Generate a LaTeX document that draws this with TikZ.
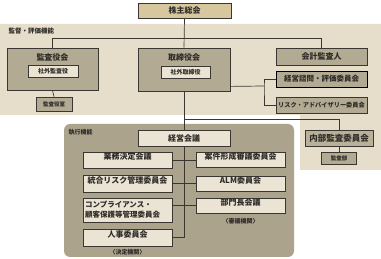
\documentclass[tikz,border=0pt]{standalone}
\usepackage{fontspec}
\setmainfont{Noto Sans CJK JP}
\usepackage{xcolor}
\definecolor{band}{HTML}{E6DECA}
\definecolor{execgray}{HTML}{ACA38D}
\definecolor{boxgray}{HTML}{B3AA93}
\definecolor{paper}{HTML}{EBE4D4}
\definecolor{gold}{HTML}{D7C79F}
\definecolor{ink}{HTML}{3A3733}
\usetikzlibrary{positioning,shadows}

\newcommand{\jpsize}[1]{\fontsize{#1}{#1}\bfseries\selectfont}

\begin{document}
\begin{tikzpicture}[
		x=1pt, y=-1pt,
		every node/.style={text=ink!80!black, font=\jpsize{8}},
		basebox/.style={draw=ink, line width=0.8pt, inner sep=1pt, align=center,
			drop shadow={shadow xshift=0.7pt, shadow yshift=-0.7pt, fill=ink!70, opacity=1}},
		paperbox/.style={basebox, fill=paper, minimum width=89pt, minimum height=16pt},
		graybox/.style={basebox, fill=boxgray},
		link/.style={draw=ink, line width=0.7pt}
	]
		\useasboundingbox (0,0) rectangle (381,259);

		% Background areas
		\fill[band] (0,24) -- (381,24) -- (381,170) -- (300,170) -- (300,115) -- (0,115) -- cycle;
		\fill[execgray, rounded corners=6pt] (64,124) rectangle (294,257);

		% Area labels
		\node[anchor=west, font=\jpsize{6.5}] (supervision) at (5,31) {監督・評価機能};
		\node[anchor=west, font=\jpsize{6}] (execution) at (65,132) {執行機能};

		% Shareholders
		\node[basebox, fill=gold, minimum width=93pt, minimum height=15pt] (agm) at (184.5,10.5) {株主総会};

		% Auditors
		\node[graybox, minimum width=91pt, minimum height=42pt] (kansa) at (52.5,69) {};
		\node (kansatitle) at (52.5,57) {監査役会};
		\node[basebox, fill=paper, minimum width=50pt, minimum height=12pt, font=\jpsize{6}] (outkansa) at (53,71) {社外監査役};
		\node[graybox, minimum width=36pt, minimum height=14pt, font=\jpsize{5.5}] (kansashitsu) at (54,104) {監査役室};

		% Board
		\node[graybox, minimum width=92pt, minimum height=43pt] (board) at (184,69.5) {};
		\node (boardtitle) at (184,57) {取締役会};
		\node[basebox, fill=paper, minimum width=49pt, minimum height=12pt, font=\jpsize{6}] (outboard) at (185.5,72) {社外取締役};

		% Right column
		\node[graybox, minimum width=91pt, minimum height=17pt] (kaikei) at (321.5,56.5) {会計監査人};
		\node[graybox, draw=black, minimum width=91pt, minimum height=16pt, font=\jpsize{7.5}] (advisory) at (321.5,79) {経営諮問・評価委員会};
		\node[graybox, minimum width=91pt, minimum height=16pt, font=\jpsize{6.2}] (riskadv) at (321.5,105) {リスク・アドバイザリー委員会};

		% Internal audit
		\node[graybox, fill=boxgray!90!paper, minimum width=68pt, minimum height=16pt, font=\jpsize{8.5}] (naibu) at (339,138) {内部監査委員会};
		\node[graybox, minimum width=35pt, minimum height=12pt, font=\jpsize{5.5}] (kansabu) at (339,158) {監査部};

		% Executive committees
		\node[paperbox, minimum width=92pt] (keieikaigi) at (184,138) {経営会議};
		\foreach \nm/\cx/\cy/\ht/\txt in {
			gyomu/127.5/160/16/業務決定会議,
			togo/127.5/183.5/17/統合リスク管理委員会,
			jinji/127.5/237.5/17/人事委員会,
			anken/240.5/160/15/案件形成審議委員会,
			alm/240.5/183.5/15/ALM委員会,
			bumon/240.5/205.5/15/部門長会議} {
			\node[paperbox, minimum height=\ht pt] (\nm) at (\cx,\cy) {\txt};
		}
		\node[paperbox, minimum height=24pt, align=left, text width=85pt, font=\fontsize{7.5}{10}\bfseries\selectfont] (compl) at (127.5,210) {コンプライアンス・\\顧客保護等管理委員会};

		% Body type notes
		\node[font=\jpsize{6}] (decision) at (127.5,252) {〈決定機関〉};
		\node[font=\jpsize{6}] (deliberation) at (240.5,221) {〈審議機関〉};

		% Connectors
		\coordinate (brk) at (264,86);
		\coordinate (execjoin) at (184,119);
		\draw[link] (agm.south) -- (board.north);
		\draw[link] (board.south) -- (keieikaigi.north);
		\draw[link] (kansa.north) -- ++(0,-9) -| (kaikei.north);
		\draw[link] (kansa.south) -- (kansashitsu.north);
		\draw[link] ([yshift=5pt]board.south east) -- (brk);
		\draw[link] (advisory.west) -| (brk) |- (riskadv.west);
		\draw[link] (execjoin) -| (naibu.north);
		\draw[link] (naibu.south) -- (kansabu.north);
		\draw[link] (keieikaigi.south) |- (jinji.east);
		\draw[link] (gyomu.east) -- (anken.west);
		\draw[link] (togo.east) -- (alm.west);
		\draw[link] (bumon.west) -- (bumon.west -| compl.east);
	\end{tikzpicture}
\end{document}
